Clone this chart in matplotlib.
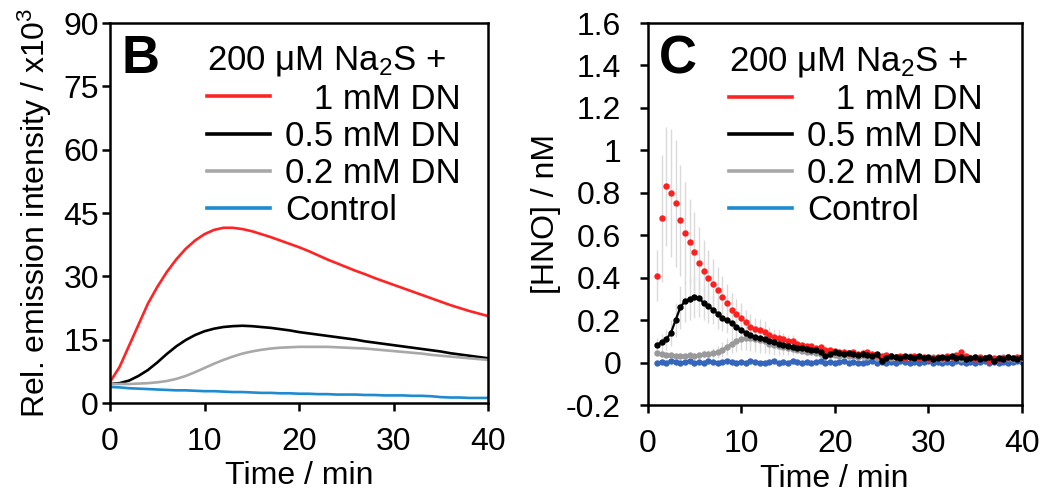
import matplotlib
matplotlib.use("Agg")
import matplotlib.pyplot as plt
import numpy as np
from matplotlib.lines import Line2D
from matplotlib.ticker import FuncFormatter

plt.rcParams['font.family'] = ['Liberation Sans', 'DejaVu Sans']
plt.rcParams['mathtext.fontset'] = 'custom'
plt.rcParams['mathtext.rm'] = 'Liberation Sans'
plt.rcParams['mathtext.it'] = 'Liberation Sans'
plt.rcParams['mathtext.bf'] = 'Liberation Sans:bold'

# panel B: emission intensity (x10^3), one value per minute
time_b = list(range(41))
em_1mm = [5, 8.5, 13.5, 18.5, 23.5, 27.5, 31, 34, 36.5, 38.5, 40, 41, 41.5, 41.5, 41.2, 40.7, 40,
          39.3, 38.5, 37.7, 36.9, 36, 35, 34, 33.1, 32.2, 31.3, 30.5, 29.6, 28.8, 28, 27.2, 26.4,
          25.6, 24.8, 24, 23.2, 22.5, 21.8, 21.2, 20.6]
em_05mm = [4.5, 4.7, 5.3, 6.4, 7.8, 9.6, 11.6, 13.4, 14.9, 16.1, 17.0, 17.6, 18.0, 18.2, 18.3, 18.2,
           18.0, 17.8, 17.5, 17.2, 16.8, 16.5, 16.2, 15.9, 15.6, 15.3, 15.0, 14.6, 14.3, 14.0, 13.7,
           13.4, 13.1, 12.8, 12.5, 12.2, 11.8, 11.5, 11.2, 10.9, 10.6]
em_02mm = [4.5, 4.5, 4.5, 4.6, 4.7, 4.9, 5.2, 5.7, 6.4, 7.3, 8.3, 9.3, 10.2, 11.0, 11.7, 12.2, 12.6,
           12.9, 13.1, 13.2, 13.3, 13.3, 13.3, 13.3, 13.2, 13.1, 13.0, 12.9, 12.7, 12.5, 12.3, 12.1,
           11.9, 11.7, 11.4, 11.2, 11.0, 10.8, 10.6, 10.4, 10.2]
em_ctrl = [3.8, 3.7, 3.5, 3.4, 3.3, 3.2, 3.1, 3.0, 3.0, 2.9, 2.8, 2.8, 2.7, 2.6, 2.6, 2.5, 2.4, 2.4,
           2.3, 2.3, 2.2, 2.2, 2.1, 2.1, 2.0, 2.0, 2.0, 1.9, 1.9, 1.8, 1.8, 1.8, 1.7, 1.7, 1.6, 1.4,
           1.3, 1.3, 1.2, 1.2, 1.2]

# panel C: [HNO] in nM, sampled every 0.5 min from 1 to 40 min
time_c = np.arange(1, 40.5, 0.5)
hno_1mm = [0.41, 0.68, 0.83, 0.80, 0.75, 0.67, 0.61, 0.57, 0.52, 0.47, 0.43, 0.40, 0.37, 0.34,
           0.31, 0.28, 0.25, 0.23, 0.21, 0.19, 0.17, 0.16, 0.155, 0.145, 0.13, 0.12, 0.115,
           0.11, 0.10, 0.10, 0.09, 0.085, 0.08, 0.08, 0.07, 0.075, 0.06, 0.06, 0.055, 0.05, 0.05,
           0.045, 0.05, 0.04, 0.045, 0.05, 0.04, 0.035, 0.03, 0.035, 0.03, 0.025, 0.03, 0.02,
           0.025, 0.03, 0.02, 0.025, 0.015, 0.02, 0.025, 0.02, 0.03, 0.025, 0.035, 0.05, 0.03,
           0.02, 0.015, 0.025, 0.02, 0.01, 0.02, 0.015, 0.02, 0.025, 0.02, 0.025, 0.025]
hno_05mm = [0.085, 0.095, 0.11, 0.14, 0.20, 0.26, 0.29, 0.30, 0.31, 0.305, 0.28, 0.265, 0.25,
            0.23, 0.21, 0.20, 0.185, 0.17, 0.155, 0.14, 0.13, 0.12, 0.115, 0.11, 0.10, 0.095,
            0.09, 0.085, 0.08, 0.075, 0.07, 0.07, 0.065, 0.06, 0.06, 0.05, 0.03, 0.04, 0.05,
            0.045, 0.04, 0.045, 0.04, 0.035, 0.04, 0.035, 0.03, 0.04, 0.01, 0.02, 0.03, 0.025,
            0.02, 0.03, 0.025, 0.02, 0.03, 0.02, 0.025, 0.015, 0.02, 0.025, 0.02, 0.03, 0.02,
            0.025, 0.015, 0.02, 0.025, 0.015, 0.02, 0.025, 0.01, 0.02, 0.015, 0.025, 0.02,
            0.015, 0.025]
hno_02mm = [0.045, 0.04, 0.035, 0.035, 0.03, 0.03, 0.03, 0.035, 0.03, 0.035, 0.04, 0.04, 0.045,
            0.05, 0.06, 0.075, 0.09, 0.10, 0.11, 0.115, 0.115, 0.11, 0.105, 0.10, 0.09, 0.085,
            0.08, 0.075, 0.07, 0.065, 0.06, 0.055, 0.05, 0.05, 0.045, 0.04, 0.04, 0.035, 0.035,
            0.03, 0.035, 0.03, 0.03, 0.025, 0.03, 0.025, 0.03, 0.02, 0.025, 0.03, 0.02, 0.025,
            0.02, 0.025, 0.03, 0.02, 0.025, 0.02, 0.02, 0.025, 0.02, 0.015, 0.02, 0.025, 0.02,
            0.015, 0.02, 0.02, 0.025, 0.015, 0.02, 0.02, 0.015, 0.02, 0.025, 0.02, 0.015, 0.02,
            0.02]
hno_ctrl = [0.0, 0.005, 0.0, 0.01, 0.005, 0.0, 0.005, 0.01, 0.0, 0.005, 0.0, 0.01, 0.005, 0.0,
            0.005, 0.01, 0.005, 0.0, 0.005, 0.0, 0.01, 0.005, 0.0, 0.0, 0.005, 0.01, 0.0, 0.005,
            0.0, 0.01, 0.005, 0.0, 0.005, 0.0, 0.005, 0.01, 0.0, 0.005, 0.0, 0.005, 0.01, 0.0,
            0.005, 0.0, 0.0, 0.005, 0.01, 0.0, 0.005, 0.0, 0.005, 0.0, 0.01, 0.005, 0.0, 0.005,
            0.0, 0.005, 0.01, 0.0, 0.005, 0.0, 0.005, 0.0, 0.01, 0.005, 0.0, 0.005, 0.0, 0.005,
            0.01, 0.0, 0.005, 0.0, 0.005, 0.0, 0.005, 0.01, 0.005]
# error bars, only the first 30 points (later ones are too small to see)
err_1mm = [0.12, 0.30, 0.28, 0.30, 0.30, 0.26, 0.24, 0.20, 0.19, 0.17, 0.15, 0.13, 0.12, 0.11,
           0.10, 0.09, 0.08, 0.07, 0.07, 0.06, 0.06, 0.05, 0.05, 0.05, 0.04, 0.04, 0.04, 0.03,
           0.03, 0.03]
err_05mm = [0.03, 0.04, 0.05, 0.06, 0.08, 0.10, 0.10, 0.10, 0.10, 0.09, 0.08, 0.08, 0.07, 0.07,
            0.06, 0.06, 0.05, 0.05, 0.05, 0.04, 0.04, 0.04, 0.03, 0.03, 0.03, 0.03, 0.03, 0.02,
            0.02, 0.02]
err_02mm = [0.01, 0.01, 0.01, 0.01, 0.01, 0.01, 0.01, 0.01, 0.01, 0.015, 0.02, 0.02, 0.025, 0.03,
            0.035, 0.04, 0.045, 0.05, 0.05, 0.055, 0.06, 0.06, 0.06, 0.055, 0.05, 0.05, 0.045,
            0.04, 0.035, 0.03]

labels = ['   1 mM DN', '0.5 mM DN', '0.2 mM DN', 'Control']
line_colors = ['#ff2424', '#000000', '#a8a8a8', '#1e8bd0']
dot_colors = ['#ff1f1f', '#000000', '#9a9a9a', '#3566bd']

FS = 23
LFS = 25

fig = plt.figure(figsize=(10.41, 4.94), dpi=100)
axB = fig.add_axes([0.1057, 0.1842, 0.3631, 0.7692])
axC = fig.add_axes([0.622, 0.180, 0.3597, 0.7734])

for ax in (axB, axC):
    for sp in ax.spines.values():
        sp.set_linewidth(1.8)
    ax.tick_params(direction='out', length=6, width=1.8, labelsize=FS)
    ax.tick_params(axis='x', pad=11)
    ax.set_xlim(0, 40)
    ax.set_xticks([0, 10, 20, 30, 40])
    ax.set_xlabel('Time / min', fontsize=FS, labelpad=3.5)

# ---- panel B
for y, c in zip([em_1mm, em_05mm, em_02mm, em_ctrl], line_colors):
    axB.plot(time_b, y, color=c, lw=1.9)
axB.set_ylim(0, 90)
axB.set_yticks(range(0, 91, 15))
axB.tick_params(axis='y', pad=2)
axB.set_ylabel('Rel. emission intensity / x10$^3$', fontsize=FS, labelpad=7)
axB.text(0.03, 0.97, 'B', transform=axB.transAxes, fontsize=38, fontweight='bold',
         va='top', ha='left')

# ---- panel C
for yv, ev in [(hno_1mm, err_1mm), (hno_05mm, err_05mm), (hno_02mm, err_02mm)]:
    axC.errorbar(time_c[:30], yv[:30], yerr=ev, fmt='none', ecolor='#dadada',
                 elinewidth=1.0, capsize=0, zorder=1)
for y, c, z in zip([hno_ctrl, hno_02mm, hno_05mm, hno_1mm], dot_colors[::-1], [2, 3, 5, 4]):
    axC.plot(time_c, y, ls='none', marker='o', ms=4.6, mec='none', color=c, zorder=z)
axC.plot(time_c, hno_05mm, color='#000000', lw=1.6, zorder=5)
axC.plot(time_c, hno_02mm, color='#9a9a9a', lw=1.6, zorder=3)
axC.plot(time_c, hno_ctrl, color='#3566bd', lw=1.6, zorder=2)
axC.set_ylim(-0.2, 1.6)
axC.set_yticks(np.arange(-0.2, 1.61, 0.2))
axC.yaxis.set_major_formatter(FuncFormatter(lambda v, p: '{:g}'.format(round(v, 1))))
axC.tick_params(axis='y', pad=13)
axC.set_ylabel('[HNO] / nM', fontsize=FS, labelpad=4)
axC.text(0.03, 0.97, 'C', transform=axC.transAxes, fontsize=38, fontweight='bold',
         va='top', ha='left')

handles = [Line2D([], [], color=c, lw=2.6) for c in line_colors]
for ax, xa in ((axB, 0.929), (axC, 0.896)):
    leg = ax.legend(handles, labels, title='200 μM Na$_2$S +', loc='upper right',
                    bbox_to_anchor=(xa, 0.945), frameon=False, fontsize=LFS,
                    title_fontsize=LFS, handlelength=1.8, handletextpad=0.45,
                    labelspacing=0.12, alignment='left', borderaxespad=0,
                    borderpad=0)

fig.savefig('out.png', dpi=100)
